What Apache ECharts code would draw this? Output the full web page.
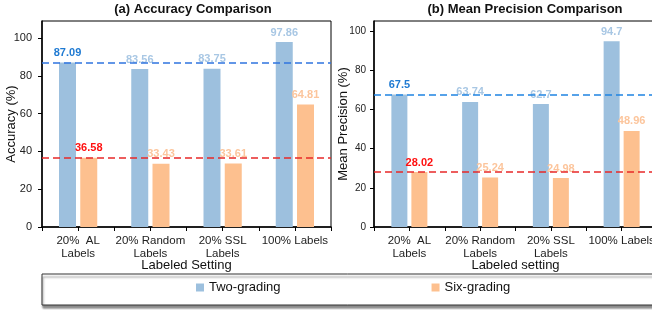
<!DOCTYPE html>
<html>
<head>
<meta charset="utf-8">
<script src="https://cdn.jsdelivr.net/npm/echarts@6/dist/echarts.min.js"></script>
<style>
  html, body { margin: 0; padding: 0; background: #fff; }
</style>
</head>
<body>
<div id="chart" style="width: 652px; height: 310px"></div>
<script>
// categories + values
const categories = ["20%  AL\nLabels", "20% Random\nLabels", "20% SSL\nLabels", "100% Labels"];
const seriesNames = ["Two-grading", "Six-grading"];
const accTwo = [87.09, 83.56, 83.75, 97.86];
const accSix = [36.58, 33.43, 33.61, 64.81];
const precTwo = [67.5, 63.74, 62.7, 94.7];
const precSix = [28.02, 25.24, 24.98, 48.96];
const yTicks = [0, 20, 40, 60, 80, 100];

const FONT = "Liberation Sans, Arial, sans-serif";
const BLUE = "#9dc0de";
const ORANGE = "#fdc08f";

// first bar of each series gets the strong label colour
function makeData(values, strong, weak) {
  return values.map((v, i) => ({
    value: v,
    label: { color: i === 0 ? strong : weak },
  }));
}

function barSeries(name, values, color, strong, weak, gridIdx, lineColor, barWidth) {
  return {
    name: name,
    type: "bar",
    xAxisIndex: gridIdx * 2,
    yAxisIndex: gridIdx,
    barWidth: barWidth,
    barGap: "25%",
    itemStyle: { color: color },
    label: {
      show: true,
      position: "top",
      distance: 4,
      fontSize: 11,
      fontWeight: "bold",
      fontFamily: FONT,
    },
    data: makeData(values, strong, weak),
    markLine: {
      silent: true,
      symbol: "none",
      label: { show: false },
      lineStyle: { color: lineColor, type: [7, 4], width: 1.5 },
      data: [{ yAxis: values[0] }],
      z: 5,
    },
  };
}

function catAxis(gridIdx, name) {
  return {
    type: "category",
    gridIndex: gridIdx,
    position: "bottom",
    data: categories,
    name: name,
    nameLocation: "middle",
    nameGap: 32,
    nameMoveOverlap: false,
    nameTextStyle: { fontSize: 13, color: "#111", fontFamily: FONT },
    axisLine: { lineStyle: { color: "#000", width: 1.5 } },
    axisTick: { show: true, length: 4, lineStyle: { color: "#000" } },
    axisLabel: { fontSize: 11.5, color: "#222", fontFamily: FONT, margin: 7, lineHeight: 13.5, interval: 0 },
  };
}

// half-category tick marks (between each pair of bars)
function tickAxis(gridIdx) {
  return {
    type: "category",
    gridIndex: gridIdx,
    position: "bottom",
    data: Array(categories.length * 2).fill(""),
    axisLine: { show: false },
    axisTick: { show: true, length: 4, lineStyle: { color: "#000" } },
    axisLabel: { show: false },
  };
}

function valAxis(gridIdx, name, max, fs, margin, gap) {
  return {
    type: "value",
    gridIndex: gridIdx,
    min: yTicks[0],
    max: max,
    interval: 20,
    name: name,
    nameLocation: "middle",
    nameGap: gap,
    nameMoveOverlap: false,
    nameTextStyle: { fontSize: 13, color: "#111", fontFamily: FONT },
    splitLine: { show: false },
    axisLine: { show: true, lineStyle: { color: "#000", width: 1.5 } },
    axisTick: { show: true, length: 4, lineStyle: { color: "#000" } },
    axisLabel: {
      fontSize: fs,
      color: "#222",
      fontFamily: FONT,
      margin: margin,
      showMaxLabel: false,
      formatter: (v) => (yTicks.indexOf(v) >= 0 ? String(v) : ""),
    },
  };
}

const option = {
  animation: false,
  textStyle: { fontFamily: FONT },
  title: [
    {
      text: "(a) Accuracy Comparison",
      left: 193, top: 3, textAlign: "center", padding: 0,
      textStyle: { fontSize: 13, fontWeight: "bold", color: "#111", fontFamily: FONT },
    },
    {
      text: "(b) Mean Precision Comparison",
      left: 525, top: 3, textAlign: "center", padding: 0,
      textStyle: { fontSize: 13, fontWeight: "bold", color: "#111", fontFamily: FONT },
    },
  ],
  legend: {
    data: seriesNames,
    left: 196,
    top: 281,
    padding: 0,
    itemGap: 151,
    itemWidth: 8,
    itemHeight: 8,
    icon: "rect",
    textStyle: { fontSize: 13, color: "#111", fontFamily: FONT },
    z: 10,
  },
  graphic: [
    {
      type: "rect",
      z: 0,
      shape: { x: 42, y: 274, width: 640, height: 31 },
      style: {
        fill: "#fff",
        stroke: "#333",
        lineWidth: 1,
        shadowColor: "rgba(0,0,0,0.45)",
        shadowOffsetY: 3,
        shadowOffsetX: 1,
        shadowBlur: 2,
      },
    },
  ],
  grid: [
    { left: 42, top: 21, width: 289, height: 206, show: true, borderColor: "#000", borderWidth: 1, outerBoundsMode: "none", containLabel: false },
    { left: 374, top: 21, width: 283, height: 206, show: true, borderColor: "#000", borderWidth: 1, outerBoundsMode: "none", containLabel: false },
  ],
  xAxis: [
    catAxis(0, "Labeled Setting"),
    tickAxis(0),
    catAxis(1, "Labeled setting"),
    tickAxis(1),
  ],
  yAxis: [
    valAxis(0, "Accuracy (%)", 109, 11, 10, 24),
    valAxis(1, "Mean Precision (%)", 105, 10, 8, 24),
  ],
  series: [
    barSeries(seriesNames[0], accTwo, BLUE, "#1f7ad2", "#a8c7e4", 0, "#2f74e0", 17),
    barSeries(seriesNames[1], accSix, ORANGE, "#ff1010", "#fcc59c", 0, "#e82828", 17),
    barSeries(seriesNames[0], precTwo, BLUE, "#1f7ad2", "#a8c7e4", 1, "#1f84e2", 16),
    barSeries(seriesNames[1], precSix, ORANGE, "#ff1010", "#fcc59c", 1, "#e82828", 16),
  ],
};

const chart = echarts.init(document.getElementById("chart"));
chart.setOption(option);
</script>
</body>
</html>
